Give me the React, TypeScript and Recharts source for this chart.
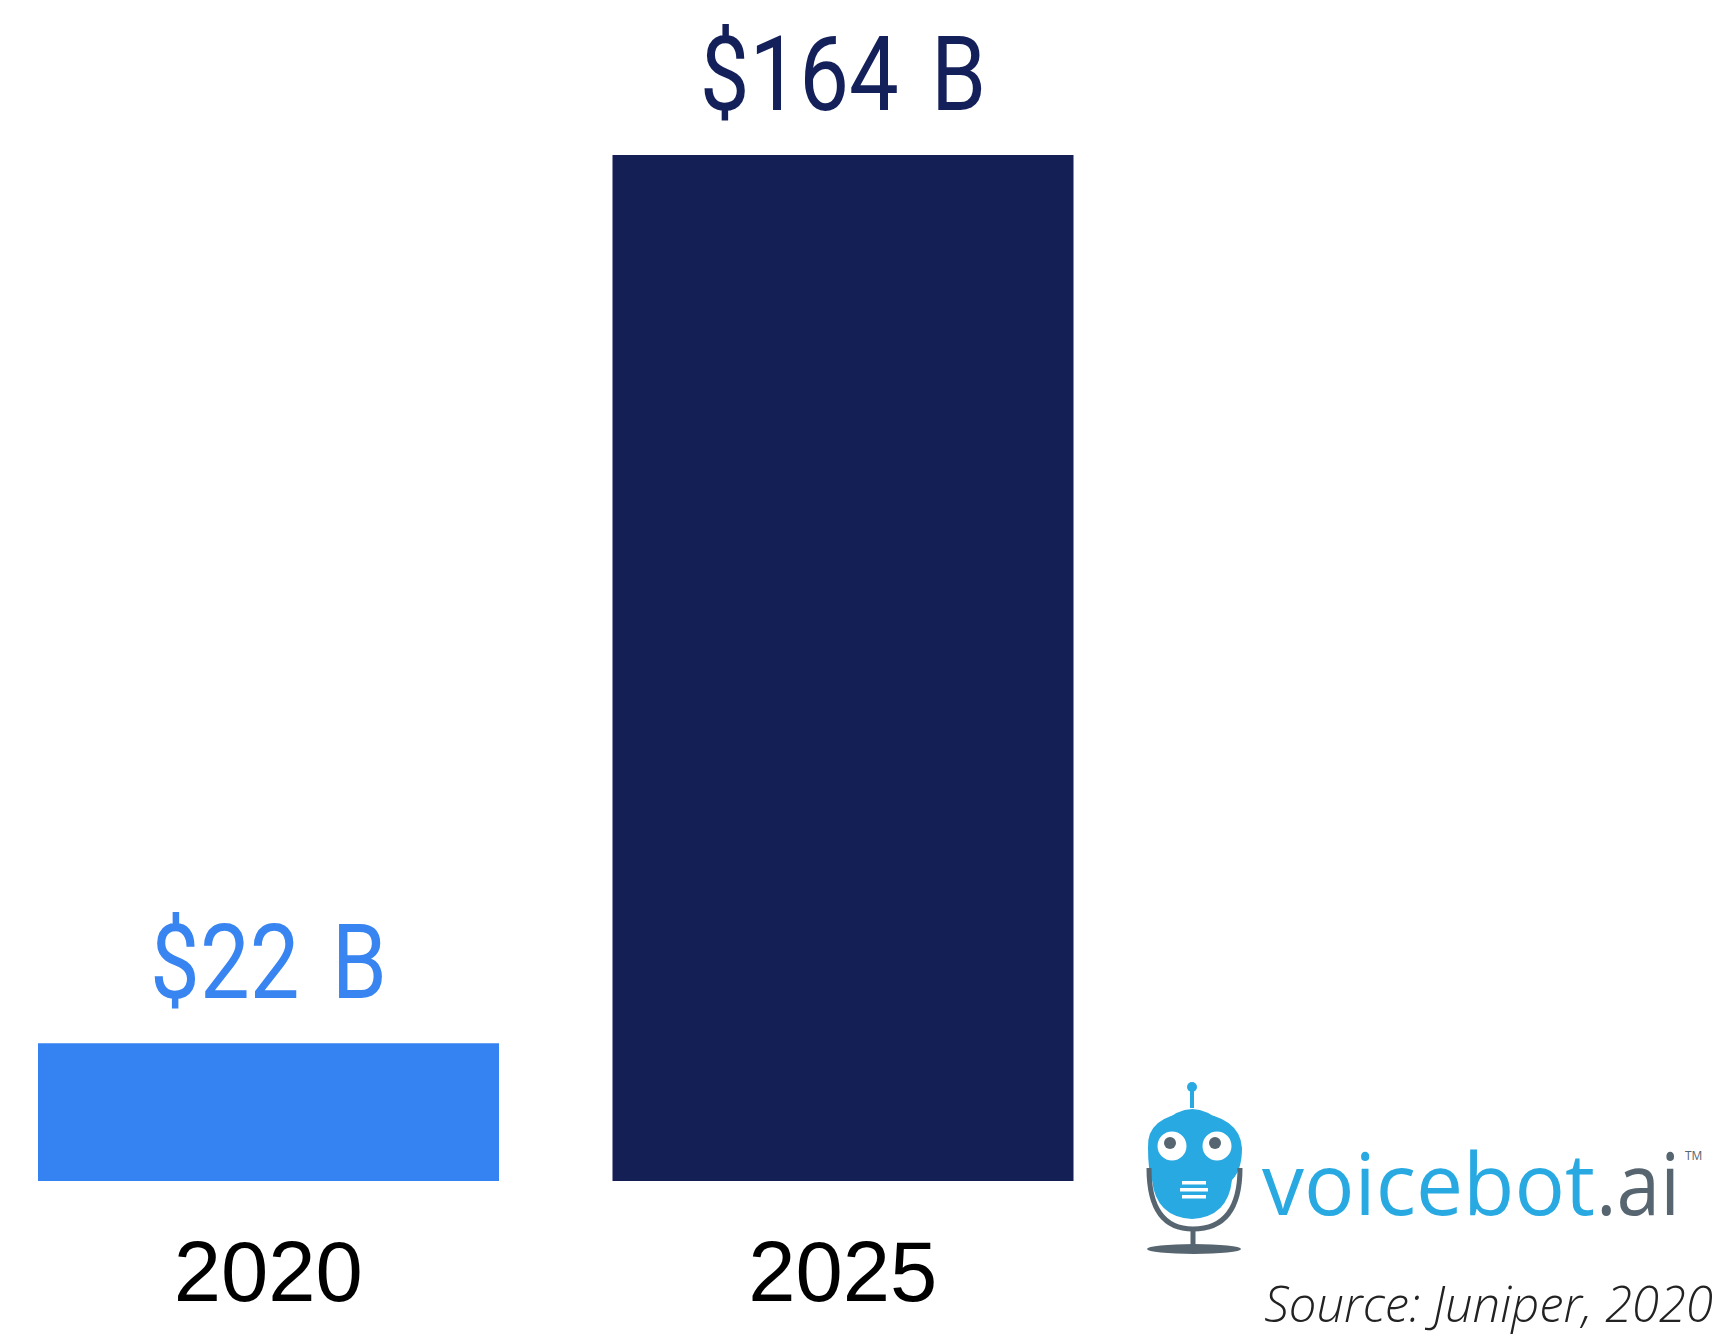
import { BarChart, Bar, XAxis, YAxis, Cell, LabelList } from "recharts";

const years = ["2020", "2025"];
const revenue = [22, 164];
const barColors = ["#3582f2", "#131f55"];
const labelColors = ["#3884f1", "#14205a"];

const data = years.map((year, i) => ({ year, revenue: revenue[i] }));

function ValueLabel(props: any) {
  const { x, y, width, value, index } = props;
  // narrow the glyphs a bit, the original font is condensed
  return (
    <g transform={`translate(${x + width / 2}, ${y - 45}) scale(0.86, 1)`}>
      <text
        x={0}
        y={0}
        textAnchor="middle"
        fontFamily="Roboto, sans-serif"
        fontSize={103}
        fill={labelColors[index]}
        style={{ wordSpacing: 12 }}
      >
        {`$${value} B`}
      </text>
    </g>
  );
}

function Logo() {
  const blue = "#29a9e1";
  const gray = "#56656f";
  return (
    <svg width={1721} height={1336} style={{ position: "absolute", left: 0, top: 0 }}>
      {/* robot mic */}
      <line x1={1192} y1={1088} x2={1192} y2={1108} stroke={blue} strokeWidth={4} />
      <circle cx={1192} cy={1087} r={5} fill={blue} />
      <path d="M1162 1124 Q1192 1094 1223 1124 Z" fill={blue} />
      <path
        d="M1148 1148 Q1146 1116 1192 1112 Q1240 1116 1242 1148 Q1242 1170 1232 1180 Q1228 1217 1192 1219 Q1156 1217 1152 1180 Q1148 1170 1148 1148 Z"
        fill={blue}
      />
      <circle cx={1172} cy={1146} r={16} fill="#fff" stroke={blue} strokeWidth={3} />
      <circle cx={1217} cy={1146} r={16} fill="#fff" stroke={blue} strokeWidth={3} />
      <circle cx={1170} cy={1143} r={6} fill={gray} />
      <circle cx={1215} cy={1143} r={6} fill={gray} />
      <rect x={1182} y={1181} width={24} height={3.5} fill="#fff" />
      <rect x={1180} y={1188} width={28} height={3.5} fill="#fff" />
      <rect x={1182} y={1195} width={24} height={3.5} fill="#fff" />
      <path d="M1149 1168 Q1149 1229 1193 1229 Q1240 1229 1240 1168" fill="none" stroke={gray} strokeWidth={5} />
      <line x1={1193} y1={1229} x2={1193} y2={1246} stroke={gray} strokeWidth={5} />
      <ellipse cx={1194} cy={1249} rx={47} ry={5} fill={gray} />
      {/* wordmark */}
      <text
        x={1262}
        y={1215}
        fontFamily="'Open Sans', Lato, sans-serif"
        fontWeight={500}
        fontSize={86}
        fill={blue}
        textLength={333}
        lengthAdjust="spacingAndGlyphs"
      >
        voicebot
      </text>
      <text
        x={1596}
        y={1215}
        fontFamily="'Open Sans', Lato, sans-serif"
        fontWeight={500}
        fontSize={86}
        fill={gray}
        textLength={84}
        lengthAdjust="spacingAndGlyphs"
      >
        .ai
      </text>
      <text x={1685} y={1160} fontFamily="'Open Sans', sans-serif" fontSize={12} fill={gray}>
        TM
      </text>
      <text
        x={1713}
        y={1322}
        textAnchor="end"
        fontFamily="'Open Sans', sans-serif"
        fontStyle="italic"
        fontWeight={300}
        fontSize={49}
        fill="#222"
      >
        Source: Juniper, 2020
      </text>
    </svg>
  );
}

export default function App() {
  return (
    <div style={{ position: "absolute", left: 0, top: 0, width: 1721, height: 1336, background: "#fff", overflow: "hidden" }}>
      <div style={{ position: "absolute", left: -19, top: 0 }}>
        <BarChart
          width={1740}
          height={1336}
          data={data}
          margin={{ top: 155, right: 591, bottom: 0, left: 0 }}
          barCategoryGap={57}
        >
          <XAxis
            dataKey="year"
            height={155}
            axisLine={false}
            tickLine={false}
            tickSize={0}
            tickMargin={60}
            interval={0}
            tick={{ fill: "#000", fontSize: 85, fontFamily: "'Liberation Sans', Arial, sans-serif" }}
          />
          <YAxis hide domain={[0, 164]} />
          <Bar dataKey="revenue" isAnimationActive={false}>
            {data.map((d, i) => (
              <Cell key={d.year} fill={barColors[i]} />
            ))}
            <LabelList dataKey="revenue" content={ValueLabel} />
          </Bar>
        </BarChart>
      </div>
      <Logo />
    </div>
  );
}
